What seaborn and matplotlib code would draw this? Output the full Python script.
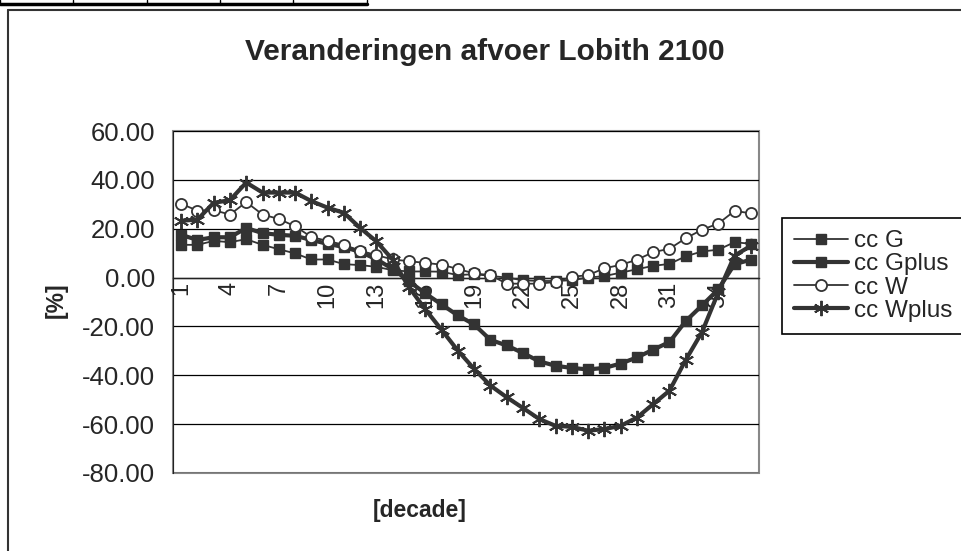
import matplotlib
matplotlib.use("Agg")
import matplotlib.pyplot as plt
from matplotlib.lines import Line2D
from matplotlib.patches import Rectangle
import seaborn as sns
import pandas as pd

# decades 1..36 and the four climate scenarios (% change in discharge)
decades = list(range(1, 37))

cc_G = [13.4, 13.4, 15.0, 14.5, 15.7, 13.4, 11.6, 9.9, 7.4, 7.4, 5.5, 5.1,
        4.4, 3.0, 2.5, 2.5, 2.4, 1.0, 1.4, 0.7, 0.0, -1.1, -1.4, -1.4,
        -1.1, 0.0, 0.6, 2.0, 3.4, 4.8, 5.6, 8.7, 10.7, 11.4, 14.5, 13.8]

cc_Gplus = [17.5, 15.4, 16.5, 16.5, 20.3, 18.2, 17.5, 17.1, 15.4, 13.8, 12.5, 10.5,
            7.5, 3.5, -1.5, -6.5, -11.0, -15.5, -19.2, -25.5, -27.8, -30.9, -34.3, -36.1,
            -37.0, -37.6, -37.0, -35.2, -32.7, -29.5, -26.4, -17.8, -11.4, -4.8, 5.5, 7.3]

cc_W = [30.2, 27.4, 27.6, 25.8, 30.9, 25.8, 24.0, 21.0, 16.6, 15.0, 13.4, 11.0,
        9.2, 7.4, 6.7, 6.0, 5.3, 3.5, 1.7, 1.0, -2.5, -2.5, -2.5, -1.8,
        0.3, 1.0, 3.8, 5.2, 7.3, 10.4, 11.8, 16.1, 19.6, 22.1, 27.3, 26.3]

cc_Wplus = [23.3, 23.7, 30.6, 31.7, 38.9, 34.8, 34.8, 34.8, 31.3, 28.6, 26.5, 20.3,
            14.8, 7.3, -4.0, -13.0, -21.4, -29.9, -37.4, -44.2, -49.0, -53.4, -57.9, -60.7,
            -61.1, -62.7, -62.0, -60.7, -57.3, -51.8, -46.3, -33.7, -22.3, -6.0, 9.0, 13.0]

series_names = ["cc G", "cc Gplus", "cc W", "cc Wplus"]
yticks = [-80, -60, -40, -20, 0, 20, 40, 60]
xticklabels = [str(d) for d in decades[::3]]

sns.set_style("white")
plt.rcParams["font.family"] = ["Liberation Sans", "DejaVu Sans"]

fig = plt.figure(figsize=(9.62, 5.51), dpi=100)
W, H = 962, 551
ax = fig.add_axes([173 / W, 1 - 473 / H, (759 - 173) / W, (473 - 131) / H])

dark = "#333333"
styles = {
    "cc G": dict(lw=1.3, marker="s", ms=7.5, mfc=dark, mec=dark),
    "cc Gplus": dict(lw=3.0, marker="s", ms=7.5, mfc=dark, mec=dark),
    "cc W": dict(lw=1.3, marker="o", ms=8, mfc="white", mec=dark, mew=1.3),
    "cc Wplus": dict(lw=3.0, marker=(6, 2, 0), ms=11, mfc=dark, mec=dark, mew=1.4),
}

df = pd.DataFrame({"decade": decades, "cc G": cc_G, "cc Gplus": cc_Gplus,
                   "cc W": cc_W, "cc Wplus": cc_Wplus})

for name in series_names:
    st = styles[name]
    sns.lineplot(data=df, x="decade", y=name, ax=ax, color=dark, label=name,
                 linewidth=st["lw"], marker=st["marker"], markersize=st["ms"],
                 markerfacecolor=st["mfc"], markeredgecolor=st["mec"],
                 markeredgewidth=st.get("mew", 1.0), zorder=3)

ax.set_xlim(0.5, 36.5)
ax.set_ylim(-80, 60)
ax.set_yticks(yticks)
ax.set_yticklabels([f"{v:.2f}" for v in yticks], fontsize=18.5)
ax.yaxis.grid(True, color="black", linewidth=0.9)
ax.set_axisbelow(True)

# x axis crosses at zero, ticks on category boundaries, labels every 3rd decade
ax.spines["bottom"].set_position(("data", 0))
ax.spines["bottom"].set_color("#222222")
ax.spines["bottom"].set_linewidth(1.0)
ax.set_xticks(decades[::3])
ax.set_xticklabels(xticklabels, rotation=90, fontsize=17)
ax.set_xticks([d - 0.5 for d in decades] + [36.5], minor=True)
ax.tick_params(axis="x", which="major", length=0, pad=3)
ax.tick_params(axis="x", which="minor", length=6, width=1, color="#222222", direction="out")
ax.tick_params(axis="y", length=7, width=1, color="#222222", direction="out", pad=6)
for t in ax.get_xticklabels():
    t.set_va("top")

ax.spines["left"].set_color("#222222")
ax.spines["right"].set_visible(False)
ax.spines["top"].set_visible(False)
ax.add_patch(Rectangle((0, 0), 1, 1, transform=ax.transAxes, fill=False,
                       edgecolor="#888888", linewidth=1.5, zorder=0, clip_on=False))

ax.set_xlabel("")
ax.set_ylabel("")
fig.text(56 / W, 1 - 300 / H, "[%]", rotation=90, fontsize=16.5, fontweight="bold",
         ha="center", va="center")
fig.text(420 / W, 1 - 510 / H, "[decade]", fontsize=16.5, fontweight="bold",
         ha="center", va="center")
fig.text(485 / W, 1 - 52 / H, "Veranderingen afvoer Lobith 2100", fontsize=21.5,
         fontweight="bold", ha="center", va="center")

leg = ax.legend(loc="upper left", bbox_to_anchor=(782 / W, 1 - 218 / H),
                bbox_transform=fig.transFigure, fontsize=17.5, frameon=True,
                fancybox=False, edgecolor="black", framealpha=1,
                handlelength=2.2, handletextpad=0.25, borderpad=0.5,
                labelspacing=0.05, borderaxespad=0)
leg.get_frame().set_linewidth(1.2)

# chart area border and the spreadsheet cell lines above it
fig.add_artist(Line2D([8 / W, 8 / W], [0, 1 - 10 / H], color="#333333", lw=1.5))
fig.add_artist(Line2D([8 / W, 1], [1 - 10 / H, 1 - 10 / H], color="#333333", lw=1.5))
fig.add_artist(Line2D([0, 367 / W], [1 - 4 / H, 1 - 4 / H], color="black", lw=2.5))
for xc in [0, 73, 147, 220, 293, 367]:
    fig.add_artist(Line2D([xc / W, xc / W], [1 - 4 / H, 1], color="black", lw=1))

fig.savefig("out.png", dpi=100)
